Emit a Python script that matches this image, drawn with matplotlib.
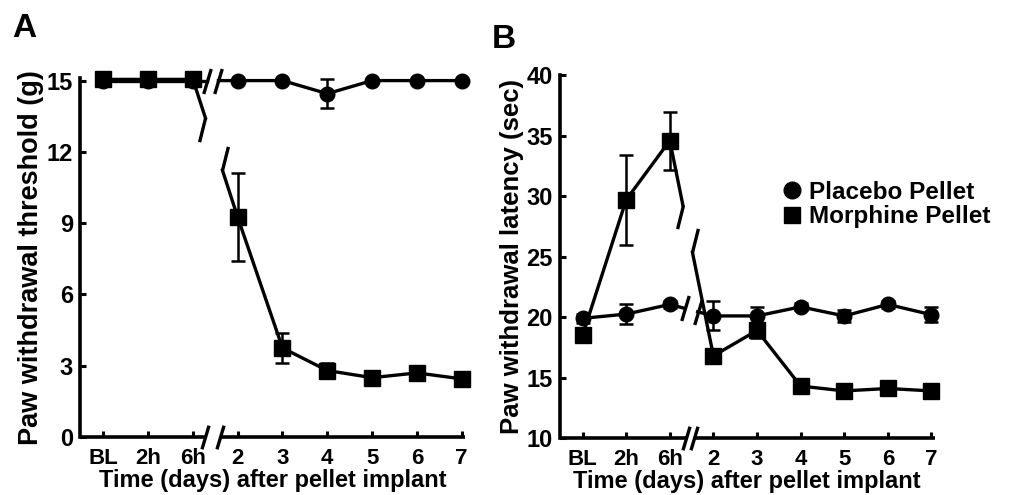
import matplotlib.pyplot as plt
from matplotlib.lines import Line2D
import numpy as np

plt.rcParams['font.family'] = ['Liberation Sans', 'DejaVu Sans']
plt.rcParams['font.weight'] = 'bold'
plt.rcParams['axes.labelweight'] = 'bold'

# data
x_labels = ['BL', '2h', '6h', '2', '3', '4', '5', '6', '7']

a_placebo = [15.0, 15.0, 15.0, 15.0, 15.0, 14.45, 15.0, 15.0, 15.0]
a_placebo_err = [0, 0, 0, 0, 0, 0.6, 0, 0, 0]
a_morphine = [15.05, 15.05, 15.05, 9.25, 3.75, 2.8, 2.5, 2.7, 2.45]
a_morphine_err = [0, 0, 0, 1.85, 0.65, 0.3, 0.2, 0.2, 0.2]

b_placebo = [19.9, 20.25, 21.05, 20.1, 20.1, 20.85, 20.1, 21.05, 20.2]
b_placebo_err = [0.4, 0.8, 0.3, 1.2, 0.7, 0.3, 0.5, 0.3, 0.6]
b_morphine = [18.5, 29.7, 34.6, 16.8, 18.9, 14.3, 13.9, 14.1, 13.9]
b_morphine_err = [0.5, 3.7, 2.4, 0.4, 0.6, 0.4, 0.4, 0.4, 0.3]

legend_labels = ['Placebo Pellet', 'Morphine Pellet']

LW = 2.4
SLASH_MID = [(-0.3, -1), (0.3, 1)]
SLASH_DOWN = [(0, 0), (-0.25, -1)]
SLASH_UP = [(0, 0), (0.25, 1)]


def broken_series(ax, y, err, marker, ms, gap, style):
    x = np.arange(len(y))
    y = np.asarray(y, dtype=float)
    t0, t1 = gap
    xa = x[2] + t0 * (x[3] - x[2])
    ya = y[2] + t0 * (y[3] - y[2])
    xb = x[2] + t1 * (x[3] - x[2])
    yb = y[2] + t1 * (y[3] - y[2])
    ax.plot(list(x[:3]) + [xa], list(y[:3]) + [ya], color='k', lw=LW,
            clip_on=False, zorder=2)
    ax.plot([xb] + list(x[3:]), [yb] + list(y[3:]), color='k', lw=LW,
            clip_on=False, zorder=2)
    if style == 'mid':
        ax.plot([xa, xb], [ya, yb], ls='none', marker=SLASH_MID, ms=18,
                mew=2.4, color='k', clip_on=False, zorder=2)
    else:
        ax.plot([xa], [ya], ls='none', marker=SLASH_DOWN, ms=34,
                mew=2.4, color='k', clip_on=False, zorder=2)
        ax.plot([xb], [yb], ls='none', marker=SLASH_UP, ms=34,
                mew=2.4, color='k', clip_on=False, zorder=2)
    ax.errorbar(x, y, yerr=err, fmt='none', ecolor='k', elinewidth=1.8,
                capsize=4.8, capthick=1.8, clip_on=False, zorder=3)
    ax.plot(x, y, ls='none', marker=marker, ms=ms, color='k',
            clip_on=False, zorder=4)


def style_axes(ax, ylim, yticks, xgap, ylabel, ylabelsize):
    ax.set_xlim(-0.52, 8.07)
    ax.set_ylim(*ylim)
    ax.set_yticks(yticks)
    ax.set_xticks(np.arange(len(x_labels)))
    ax.set_xticklabels(x_labels)
    for s in ['top', 'right', 'bottom']:
        ax.spines[s].set_visible(False)
    ax.spines['left'].set_linewidth(2.6)
    ax.tick_params(direction='in', length=4, width=2.2)
    ax.tick_params(axis='x', pad=8, labelsize=16)
    ax.tick_params(axis='y', pad=5, labelsize=17)
    # broken x axis
    xmin, xmax = ax.get_xlim()
    tr = ax.get_xaxis_transform()
    ax.plot([xmin, xgap[0]], [0, 0], color='k', lw=2.6, transform=tr,
            clip_on=False, solid_capstyle='butt')
    ax.plot([xgap[1], xmax], [0, 0], color='k', lw=2.6, transform=tr,
            clip_on=False, solid_capstyle='butt')
    ax.plot(list(xgap), [0, 0], ls='none', marker=SLASH_MID, ms=17, mew=2.4,
            color='k', transform=tr, clip_on=False)
    ax.set_xlabel('Time (days) after pellet implant', fontsize=17, labelpad=0)
    ax.set_ylabel(ylabel, fontsize=ylabelsize, labelpad=2)


fig = plt.figure(figsize=(10.18, 4.95), dpi=100)

axA = fig.add_axes([0.0786, 0.117, 0.378, 0.725])
broken_series(axA, a_placebo, a_placebo_err, 'o', 10.5, (0.32, 0.57), 'mid')
broken_series(axA, a_morphine, a_morphine_err, 's', 11.5, (0.28, 0.66), 'end')
style_axes(axA, (0, 15.1), [0, 3, 6, 9, 12, 15], (2.27, 2.6),
           'Paw withdrawal threshold (g)', 19.5)

axB = fig.add_axes([0.550, 0.115, 0.368, 0.733])
broken_series(axB, b_placebo, b_placebo_err, 'o', 10.5, (0.34, 0.64), 'mid')
broken_series(axB, b_morphine, b_morphine_err, 's', 11.5, (0.30, 0.52), 'end')
style_axes(axB, (10, 40), [10, 15, 20, 25, 30, 35, 40], (2.38, 2.56),
           'Paw withdrawal latency (sec)', 18.5)

handles = [Line2D([], [], ls='none', marker='o', ms=12, color='k'),
           Line2D([], [], ls='none', marker='s', ms=11.5, color='k')]
fig.legend(handles, legend_labels, loc='center left',
           bbox_to_anchor=(0.759, 0.587), frameon=False, handlelength=0.6,
           handletextpad=0.4, labelspacing=0.05, borderpad=0,
           prop={'size': 17.5, 'weight': 'bold'})

fig.text(0.012, 0.925, 'A', fontsize=24, fontweight='bold', va='baseline')
fig.text(0.483, 0.903, 'B', fontsize=24, fontweight='bold', va='baseline')

fig.savefig('out.png', dpi=100)
